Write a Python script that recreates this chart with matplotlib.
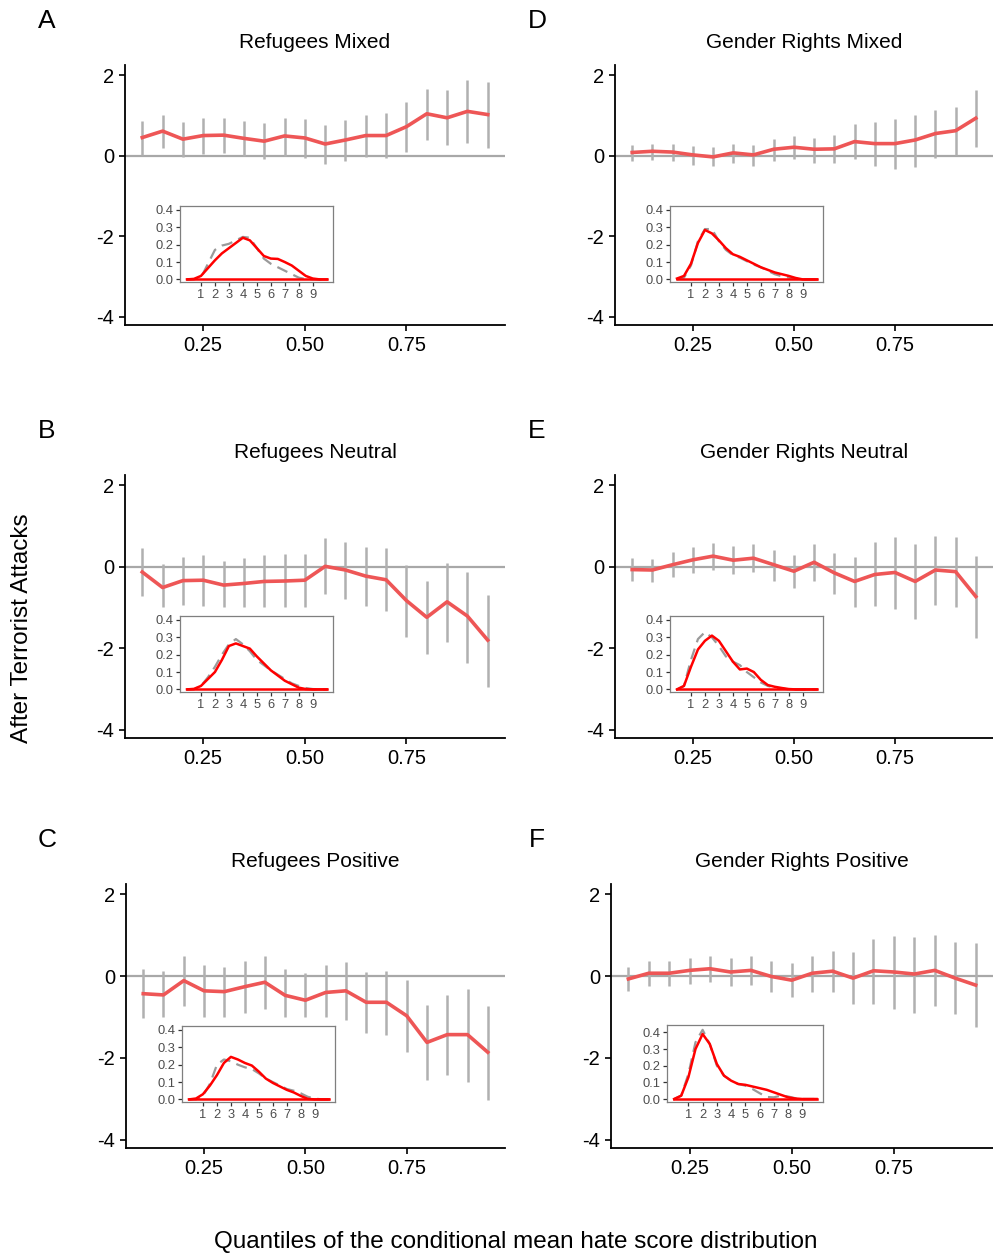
import matplotlib
matplotlib.use("Agg")
import matplotlib.pyplot as plt

plt.rcParams['font.family'] = ['Liberation Sans', 'DejaVu Sans']
plt.rcParams['axes.unicode_minus'] = False

# quantiles of the conditional mean hate score distribution
quantiles = [0.10, 0.15, 0.20, 0.25, 0.30, 0.35, 0.40, 0.45, 0.50,
             0.55, 0.60, 0.65, 0.70, 0.75, 0.80, 0.85, 0.90, 0.95]

titles = ["Refugees Mixed", "Refugees Neutral", "Refugees Positive",
          "Gender Rights Mixed", "Gender Rights Neutral", "Gender Rights Positive"]
letters = ["A", "B", "C", "D", "E", "F"]

# estimates and interval bounds per panel
est_A = [0.45, 0.61, 0.41, 0.50, 0.51, 0.43, 0.36, 0.49, 0.44, 0.29, 0.39, 0.50, 0.50, 0.72, 1.04, 0.94, 1.10, 1.02]
lo_A = [0.02, 0.18, -0.02, 0.04, 0.07, 0.00, -0.09, 0.00, -0.05, -0.21, -0.12, -0.02, -0.05, 0.08, 0.39, 0.26, 0.31, 0.20]
hi_A = [0.86, 1.00, 0.83, 0.93, 0.93, 0.86, 0.82, 0.94, 0.90, 0.77, 0.88, 1.00, 1.05, 1.32, 1.66, 1.62, 1.88, 1.82]

est_B = [-0.13, -0.51, -0.34, -0.33, -0.45, -0.41, -0.36, -0.35, -0.33, 0.01, -0.08, -0.23, -0.32, -0.83, -1.24, -0.86, -1.21, -1.80]
lo_B = [-0.72, -0.99, -0.95, -0.97, -0.99, -0.99, -0.99, -0.99, -0.99, -0.68, -0.79, -0.97, -1.08, -1.72, -2.13, -1.84, -2.37, -2.96]
hi_B = [0.45, 0.06, 0.25, 0.28, 0.15, 0.21, 0.29, 0.31, 0.32, 0.70, 0.61, 0.48, 0.45, 0.04, -0.36, 0.10, -0.12, -0.69]

est_C = [-0.43, -0.46, -0.11, -0.36, -0.38, -0.26, -0.15, -0.47, -0.59, -0.40, -0.36, -0.64, -0.64, -0.97, -1.62, -1.43, -1.43, -1.86]
lo_C = [-1.02, -0.99, -0.72, -0.99, -0.99, -0.91, -0.81, -0.99, -0.99, -0.99, -1.07, -1.39, -1.43, -1.86, -2.54, -2.41, -2.58, -3.02]
hi_C = [0.18, 0.12, 0.50, 0.27, 0.23, 0.36, 0.50, 0.18, 0.08, 0.28, 0.35, 0.10, 0.13, -0.10, -0.71, -0.46, -0.31, -0.73]

est_D = [0.08, 0.11, 0.09, 0.02, -0.03, 0.07, 0.02, 0.16, 0.21, 0.16, 0.17, 0.35, 0.30, 0.30, 0.39, 0.55, 0.62, 0.93]
lo_D = [-0.12, -0.11, -0.12, -0.23, -0.26, -0.19, -0.26, -0.12, -0.08, -0.17, -0.17, -0.09, -0.26, -0.32, -0.27, -0.05, 0.02, 0.21]
hi_D = [0.26, 0.29, 0.30, 0.24, 0.21, 0.29, 0.26, 0.41, 0.50, 0.45, 0.52, 0.78, 0.83, 0.91, 1.02, 1.13, 1.21, 1.64]

est_E = [-0.07, -0.08, 0.05, 0.17, 0.26, 0.16, 0.21, 0.05, -0.11, 0.11, -0.15, -0.36, -0.19, -0.14, -0.36, -0.08, -0.12, -0.73]
lo_E = [-0.35, -0.38, -0.26, -0.16, -0.07, -0.18, -0.14, -0.36, -0.53, -0.35, -0.66, -0.99, -0.96, -1.03, -1.29, -0.93, -0.98, -1.74]
hi_E = [0.21, 0.19, 0.35, 0.49, 0.58, 0.50, 0.57, 0.41, 0.30, 0.55, 0.34, 0.25, 0.60, 0.73, 0.55, 0.76, 0.74, 0.26]

est_F = [-0.07, 0.07, 0.07, 0.14, 0.18, 0.10, 0.14, -0.01, -0.10, 0.07, 0.12, -0.05, 0.13, 0.10, 0.05, 0.14, -0.05, -0.22]
lo_F = [-0.36, -0.23, -0.23, -0.20, -0.15, -0.25, -0.22, -0.40, -0.52, -0.39, -0.39, -0.68, -0.67, -0.81, -0.90, -0.74, -0.93, -1.25]
hi_F = [0.22, 0.36, 0.36, 0.45, 0.50, 0.45, 0.50, 0.38, 0.31, 0.50, 0.62, 0.59, 0.90, 0.98, 0.96, 1.01, 0.83, 0.80]

# inset densities (hate score), read at half steps
dens_x = [0, 0.5, 1, 1.5, 2, 2.5, 3, 3.5, 4, 4.5, 5, 5.5, 6, 6.5, 7, 7.5, 8, 8.5, 9, 9.5, 10]

after_A = [0, .003, .02, .065, .11, .15, .18, .21, .24, .225, .18, .135, .12, .118, .10, .08, .05, .02, .005, 0, 0]
before_A = [0, 0, .01, .09, .17, .195, .205, .225, .245, .24, .18, .12, .09, .07, .05, .03, .01, .002, 0, 0, 0]
after_B = [0, .003, .02, .06, .10, .17, .25, .265, .25, .235, .19, .15, .11, .08, .05, .03, .01, .002, 0, 0, 0]
before_B = [0, 0, .02, .07, .13, .20, .26, .29, .26, .22, .17, .14, .11, .085, .06, .035, .02, .008, .002, 0, 0]
after_C = [0, .005, .03, .08, .14, .21, .245, .23, .21, .195, .16, .12, .095, .075, .055, .04, .02, .003, 0, 0, 0]
before_C = [0, 0, .02, .09, .20, .23, .22, .20, .185, .175, .15, .12, .10, .08, .06, .05, .035, .015, .005, 0, 0]
after_D = [.005, .02, .09, .21, .285, .265, .225, .18, .145, .13, .11, .09, .07, .055, .04, .03, .02, .008, 0, 0, 0]
before_D = [0, .01, .08, .22, .29, .29, .22, .17, .14, .125, .105, .085, .07, .05, .03, .018, .01, .003, 0, 0, 0]
after_E = [0, .02, .13, .23, .28, .31, .28, .22, .16, .115, .12, .10, .055, .025, .015, .008, .002, 0, 0, 0, 0]
before_E = [0, .02, .17, .29, .33, .30, .25, .19, .16, .14, .10, .07, .04, .02, .01, .005, 0, 0, 0, 0, 0]
after_F = [0, .02, .13, .30, .39, .33, .21, .14, .11, .09, .085, .075, .065, .055, .04, .025, .01, .003, 0, 0, 0]
before_F = [0, .02, .15, .34, .415, .33, .20, .14, .11, .09, .08, .06, .035, .012, .01, .02, .015, .005, 0, 0, 0]

panels = [
    (est_A, lo_A, hi_A, after_A, before_A),
    (est_B, lo_B, hi_B, after_B, before_B),
    (est_C, lo_C, hi_C, after_C, before_C),
    (est_D, lo_D, hi_D, after_D, before_D),
    (est_E, lo_E, hi_E, after_E, before_E),
    (est_F, lo_F, hi_F, after_F, before_F),
]

W, H = 993, 1256
fig = plt.figure(figsize=(W / 100, H / 100), dpi=100)

# main axes boxes in pixels: left, top, right, bottom
main_px = [(125, 65, 505, 325), (125, 475, 505, 738), (126, 884, 505, 1148),
           (615, 65, 993, 325), (615, 475, 993, 738), (611, 884, 993, 1148)]
inset_px = [(180, 206, 333, 282), (180, 616, 333, 692), (182, 1026, 335, 1102),
            (670, 206, 823, 282), (670, 616, 823, 692), (667, 1025, 823, 1102)]


def px_rect(b):
    l, t, r, btm = b
    return [l / W, 1 - btm / H, (r - l) / W, (btm - t) / H]


for i, (est, lo, hi, after, before) in enumerate(panels):
    ax = fig.add_axes(px_rect(main_px[i]))
    ax.axhline(0, color='#a8a8a8', lw=1.6, zorder=1)
    ax.vlines(quantiles, lo, hi, color='#b0b0b0', lw=1.8, zorder=2)
    ax.plot(quantiles, est, color='#ee5656', lw=2.6, zorder=3, solid_joinstyle='round')
    ax.set_xlim(0.0575, 0.9925)
    ax.set_ylim(-4.2, 2.25)
    ax.set_xticks([0.25, 0.50, 0.75])
    ax.set_xticklabels(["0.25", "0.50", "0.75"])
    ax.set_yticks([-4, -2, 0, 2])
    ax.set_yticklabels(["-4", "-2", "0", "2"])
    for s in ['top', 'right']:
        ax.spines[s].set_visible(False)
    for s in ['left', 'bottom']:
        ax.spines[s].set_linewidth(1.3)
        ax.spines[s].set_color('black')
    ax.tick_params(labelsize=14.5, length=4, width=1.2, colors='black', pad=4)
    ax.set_title(titles[i], fontsize=15, pad=12)
    l, t, r, b = main_px[i]
    fig.text((47 if i < 3 else 537) / W, 1 - (t - 44) / H, letters[i],
             fontsize=19, ha='center', va='center')

    ins = fig.add_axes(px_rect(inset_px[i]))
    ins.plot(dens_x, before, color='#9a9a9a', lw=1.6, dashes=(5, 3),
             solid_joinstyle='round', dash_joinstyle='round')
    ins.plot(dens_x, after, color='red', lw=1.8, solid_joinstyle='round')
    ins.plot([dens_x[0], dens_x[-1]], [0, 0], color='red', lw=1.8)
    ins.set_xlim(-0.5, 10.45)
    if i == 5:
        ins.set_ylim(-0.018, 0.444)
    else:
        ins.set_ylim(-0.015, 0.423)
    ins.set_xticks(range(1, 10))
    ins.set_yticks([0, 0.1, 0.2, 0.3, 0.4])
    ins.set_yticklabels(["0.0", "0.1", "0.2", "0.3", "0.4"])
    for s in ins.spines.values():
        s.set_color('#7f7f7f')
        s.set_linewidth(0.9)
    ins.tick_params(labelsize=9.3, length=3, width=0.9, colors='#333333',
                    labelcolor='#4d4d4d', pad=2)

fig.text(22 / W, 1 - 628 / H, "After Terrorist Attacks", rotation=90,
         fontsize=17.5, ha='center', va='center')
fig.text(516 / W, 1 - 1242 / H, "Quantiles of the conditional mean hate score distribution",
         fontsize=17.5, ha='center', va='center')

fig.savefig("out.png", dpi=100)
